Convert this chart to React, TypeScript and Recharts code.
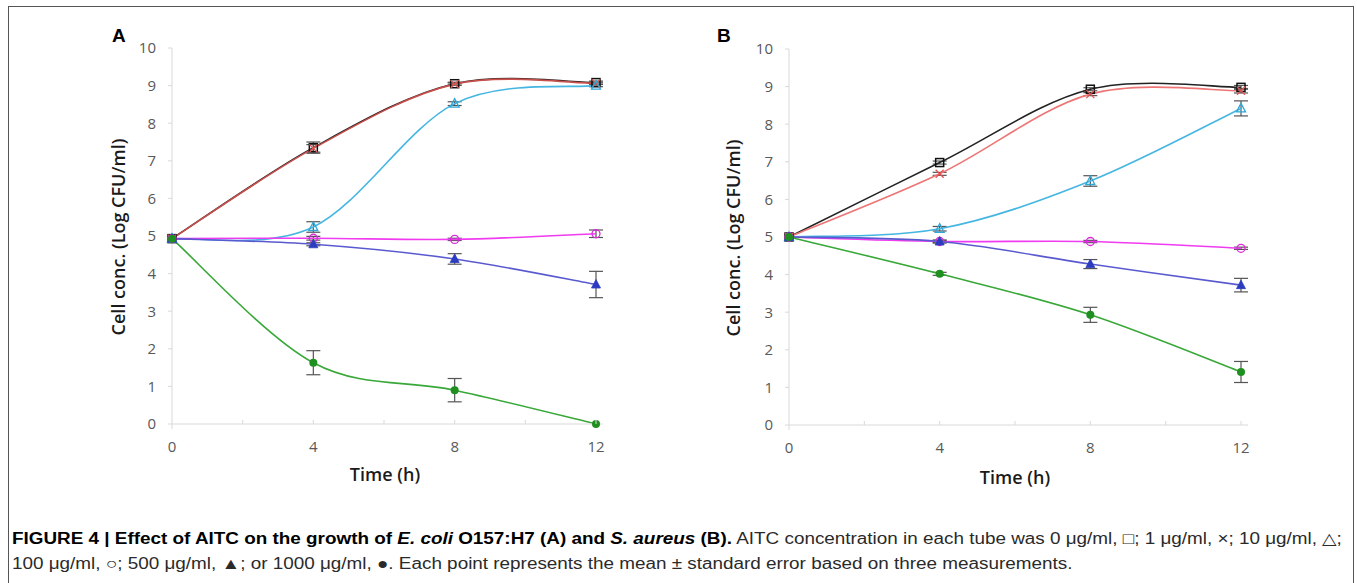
import React from "react";
import { ErrorBar, Line, LineChart, XAxis, YAxis } from "recharts";

// sampling times (h) and axis ticks
const HOURS = [0, 4, 8, 12];
const X_TICKS = [0, 2, 4, 6, 8, 10, 12];
const Y_TICKS = [0, 1, 2, 3, 4, 5, 6, 7, 8, 9, 10];

const DOSES = ["0 μg/ml", "1 μg/ml", "10 μg/ml", "100 μg/ml", "500 μg/ml", "1000 μg/ml"];

// panel A: E. coli O157:H7, log CFU/ml
const A_DOSE_0 = [4.93, 7.35, 9.05, 9.08];
const A_DOSE_0_SE = [null, 0.15, 0.04, 0.04];
const A_DOSE_1 = [4.93, 7.33, 9.04, 9.06];
const A_DOSE_1_SE = [null, 0.1, 0.03, 0.03];
const A_DOSE_10 = [4.93, 5.24, 8.52, 9.0];
const A_DOSE_10_SE = [null, 0.14, 0.05, 0.03];
const A_DOSE_100 = [4.93, 4.94, 4.91, 5.06];
const A_DOSE_100_SE = [null, 0.05, 0.03, 0.1];
const A_DOSE_500 = [4.93, 4.78, 4.39, 3.71];
const A_DOSE_500_SE = [null, 0.04, 0.14, 0.35];
const A_DOSE_1000 = [4.93, 1.63, 0.9, 0.0];
const A_DOSE_1000_SE = [null, 0.32, 0.31, null];

// panel B: S. aureus, log CFU/ml
const B_DOSE_0 = [5.0, 6.98, 8.93, 8.98];
const B_DOSE_0_SE = [null, 0.04, 0.04, 0.05];
const B_DOSE_1 = [5.0, 6.68, 8.8, 8.89];
const B_DOSE_1_SE = [null, 0.04, 0.04, 0.06];
const B_DOSE_10 = [5.0, 5.22, 6.49, 8.42];
const B_DOSE_10_SE = [null, 0.06, 0.14, 0.2];
const B_DOSE_100 = [5.0, 4.88, 4.88, 4.7];
const B_DOSE_100_SE = [null, 0.03, 0.03, 0.03];
const B_DOSE_500 = [5.0, 4.88, 4.28, 3.72];
const B_DOSE_500_SE = [null, 0.04, 0.12, 0.18];
const B_DOSE_1000 = [5.0, 4.02, 2.93, 1.41];
const B_DOSE_1000_SE = [null, 0.04, 0.2, 0.28];

const AXIS = "#d9d9d9";
const TICK_INK = "#595959";
const ERR_INK = "#555555";
const CHART_FONT = "'Open Sans', 'DejaVu Sans', sans-serif";

type Kind = "square" | "cross" | "triOpen" | "circleOpen" | "triFilled" | "circleFilled";

const STYLES: { kind: Kind; line: string; mark: string }[] = [
  { kind: "square", line: "#222222", mark: "#111111" },
  { kind: "cross", line: "#ee7070", mark: "#e05555" },
  { kind: "triOpen", line: "#45b6e2", mark: "#2fa6d6" },
  { kind: "circleOpen", line: "#f03cf0", mark: "#d92ad9" },
  { kind: "triFilled", line: "#5a5ad0", mark: "#2b3cc0" },
  { kind: "circleFilled", line: "#38a838", mark: "#1f8f1f" },
];

function buildRows(series: number[][], errs: (number | null)[][]) {
  return HOURS.map((t, i) => {
    const row: Record<string, number | null> = { t };
    series.forEach((s, k) => {
      row[`s${k}`] = s[i];
      row[`e${k}`] = errs[k][i];
    });
    return row;
  });
}

const A_ROWS = buildRows(
  [A_DOSE_0, A_DOSE_1, A_DOSE_10, A_DOSE_100, A_DOSE_500, A_DOSE_1000],
  [A_DOSE_0_SE, A_DOSE_1_SE, A_DOSE_10_SE, A_DOSE_100_SE, A_DOSE_500_SE, A_DOSE_1000_SE]
);
const B_ROWS = buildRows(
  [B_DOSE_0, B_DOSE_1, B_DOSE_10, B_DOSE_100, B_DOSE_500, B_DOSE_1000],
  [B_DOSE_0_SE, B_DOSE_1_SE, B_DOSE_10_SE, B_DOSE_100_SE, B_DOSE_500_SE, B_DOSE_1000_SE]
);

// Excel-like smoothed line (Catmull-Rom through the points)
function excelSmooth(context: any) {
  let pts: number[][] = [];
  return {
    areaStart() {},
    areaEnd() {},
    lineStart() {
      pts = [];
    },
    point(x: number, y: number) {
      pts.push([+x, +y]);
    },
    lineEnd() {
      const n = pts.length;
      if (!n) return;
      context.moveTo(pts[0][0], pts[0][1]);
      for (let i = 0; i < n - 1; i++) {
        const p0 = pts[Math.max(0, i - 1)];
        const p1 = pts[i];
        const p2 = pts[i + 1];
        const p3 = pts[Math.min(n - 1, i + 2)];
        context.bezierCurveTo(
          p1[0] + (p2[0] - p0[0]) / 6,
          p1[1] + (p2[1] - p0[1]) / 6,
          p2[0] - (p3[0] - p1[0]) / 6,
          p2[1] - (p3[1] - p1[1]) / 6,
          p2[0],
          p2[1]
        );
      }
    },
  };
}

function makeDot(kind: Kind, color: string) {
  return (p: any) => {
    const { cx, cy, index } = p;
    const key = `d${index}`;
    if (cx == null || cy == null) return <g key={key} />;
    switch (kind) {
      case "square":
        return <rect key={key} x={cx - 4} y={cy - 4} width={8} height={8} fill="none" stroke={color} strokeWidth={1.5} />;
      case "cross":
        return (
          <g key={key} stroke={color} strokeWidth={1.3}>
            <line x1={cx - 4} y1={cy - 4} x2={cx + 4} y2={cy + 4} />
            <line x1={cx - 4} y1={cy + 4} x2={cx + 4} y2={cy - 4} />
          </g>
        );
      case "triOpen":
        return <polygon key={key} points={`${cx},${cy - 5} ${cx - 4.5},${cy + 3.5} ${cx + 4.5},${cy + 3.5}`} fill="none" stroke={color} strokeWidth={1.3} />;
      case "circleOpen":
        return <circle key={key} cx={cx} cy={cy} r={4} fill="none" stroke={color} strokeWidth={1.3} />;
      case "triFilled":
        return <polygon key={key} points={`${cx},${cy - 5} ${cx - 4.5},${cy + 3.5} ${cx + 4.5},${cy + 3.5}`} fill={color} stroke={color} strokeWidth={0.8} />;
      default:
        return <circle key={key} cx={cx} cy={cy} r={4} fill={color} />;
    }
  };
}

const TimeTick = (p: any) => {
  const { x, y, payload } = p;
  const v = payload.value;
  return (
    <g>
      {v === 0 ? (
        <line x1={x} x2={x} y1={y} y2={y + 5} stroke={AXIS} />
      ) : (
        <line x1={x} x2={x} y1={y} y2={y - 4} stroke={AXIS} />
      )}
      {v % 4 === 0 && (
        <text x={x} y={y + 28} textAnchor="middle" fill={TICK_INK} fontSize={15} fontFamily={CHART_FONT}>
          {v}
        </text>
      )}
    </g>
  );
};

function Panel({ rows, redLine, marginLeft, width, top }: { rows: any[]; redLine: string; marginLeft: number; width: number; top: number }) {
  return (
    <LineChart width={width} height={top + 376 + 42} data={rows} margin={{ top, right: 10, left: marginLeft, bottom: 0 }}>
      <XAxis
        dataKey="t"
        type="number"
        domain={[0, 12]}
        ticks={X_TICKS}
        interval={0}
        padding={{ left: 0, right: 7 }}
        axisLine={{ stroke: AXIS }}
        tickLine={false}
        tickSize={0}
        tickMargin={0}
        tick={<TimeTick />}
        height={42}
      />
      <YAxis
        type="number"
        domain={[0, 10]}
        ticks={Y_TICKS}
        interval={0}
        width={40}
        axisLine={{ stroke: AXIS }}
        tickLine={{ stroke: AXIS }}
        tickSize={4}
        tickMargin={12}
        tick={{ fill: TICK_INK, fontSize: 15, fontFamily: CHART_FONT }}
      />
      {STYLES.map((s, k) => (
        <Line
          key={k}
          name={DOSES[k]}
          dataKey={`s${k}`}
          type={excelSmooth as any}
          stroke={k === 1 ? redLine : s.line}
          strokeWidth={1.6}
          dot={makeDot(s.kind, s.mark)}
          activeDot={false}
          isAnimationActive={false}
        >
          <ErrorBar dataKey={`e${k}`} direction="y" width={7} stroke={ERR_INK} strokeWidth={1.2} />
        </Line>
      ))}
    </LineChart>
  );
}

const abs = (left: number, top: number): React.CSSProperties => ({ position: "absolute", left, top });

const titleStyle: React.CSSProperties = {
  fontFamily: CHART_FONT,
  fontSize: 18,
  fontWeight: 600,
  color: "#1a1a1a",
  whiteSpace: "nowrap",
};

const panelLetter: React.CSSProperties = {
  fontFamily: "'Liberation Sans', Arial, sans-serif",
  fontSize: 19,
  fontWeight: 700,
  color: "#000",
};

export default function App() {
  return (
    <div style={{ position: "absolute", left: 0, top: 0, width: 1357, height: 583, background: "#fff", overflow: "hidden" }}>
      <div
        style={{
          position: "absolute",
          left: 8,
          top: 6,
          width: 1346,
          height: 590,
          border: "1.5px solid #555",
          boxSizing: "border-box",
        }}
      />
      <div style={{ ...abs(112, 25), ...panelLetter }}>A</div>
      <div style={{ ...abs(717, 25), ...panelLetter }}>B</div>

      <div style={abs(0, 0)}>
        <Panel rows={A_ROWS} redLine="#c8504c" marginLeft={132} width={613} top={48} />
      </div>
      <div style={abs(620, 0)}>
        <Panel rows={B_ROWS} redLine="#ee7575" marginLeft={129} width={638} top={49} />
      </div>

      <div style={{ ...abs(118, 237), ...titleStyle, transform: "translate(-50%, -50%) rotate(-90deg)" }}>Cell conc. (Log CFU/ml)</div>
      <div style={{ ...abs(733, 238), ...titleStyle, transform: "translate(-50%, -50%) rotate(-90deg)" }}>Cell conc. (Log CFU/ml)</div>
      <div style={{ ...abs(385, 474), ...titleStyle, transform: "translate(-50%, -50%)" }}>Time (h)</div>
      <div style={{ ...abs(1015, 477), ...titleStyle, transform: "translate(-50%, -50%)" }}>Time (h)</div>

      <div
        style={{
          ...abs(12, 526),
          fontFamily: "'Liberation Sans', Arial, sans-serif",
          fontSize: 16,
          lineHeight: "25px",
          color: "#2a2a2a",
          whiteSpace: "nowrap",
          transform: "scaleX(1.18)",
          transformOrigin: "left top",
        }}
      >
        <b style={{ color: "#000" }}>
          FIGURE 4 | Effect of AITC on the growth of <i>E. coli</i> O157:H7 (A) and <i>S. aureus</i> (B).
        </b>{" "}
        AITC concentration in each tube was 0 μg/ml, □; 1 μg/ml, ×; 10 μg/ml, △;
        <br />
        100 μg/ml, ○; 500 μg/ml, ▲; or 1000 μg/ml, ●. Each point represents the mean ± standard error based on three measurements.
      </div>
    </div>
  );
}
